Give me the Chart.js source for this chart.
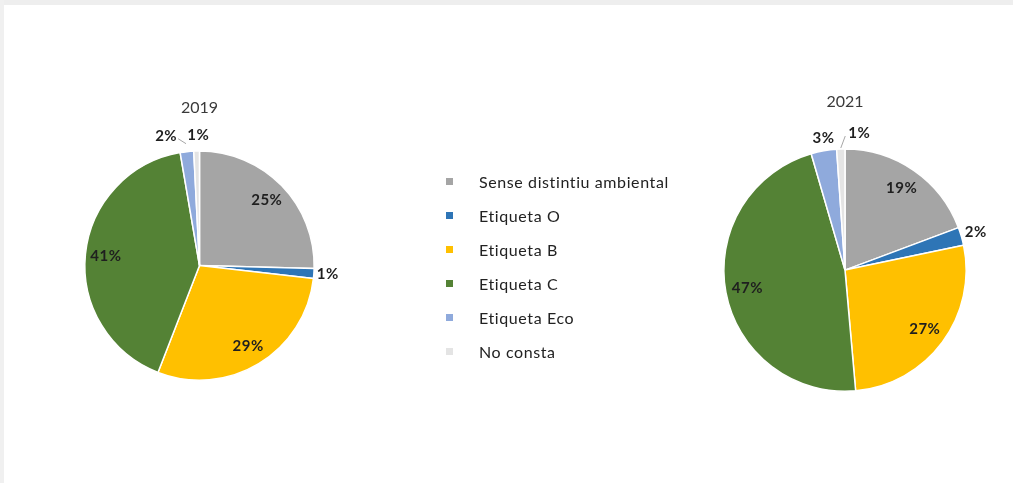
<!DOCTYPE html>
<html><head><meta charset="utf-8">
<script src="https://cdn.jsdelivr.net/npm/chart.js@4.4.1/dist/chart.umd.min.js"></script>
<style>
html,body{margin:0;padding:0;background:#fff;}
#wrap{position:relative;width:1013px;height:483px;overflow:hidden;background:#fff;}
#topband{position:absolute;left:0;top:0;width:1013px;height:5px;background:#eeeeee;}
#leftband{position:absolute;left:0;top:0;width:4px;height:483px;background:#f0f0f0;}
#c1{position:absolute;left:0;top:0;}
#c2{position:absolute;left:600px;top:0;}
#legend{position:absolute;left:446px;top:164px;font-family:Lato,"Open Sans",sans-serif;font-size:16px;letter-spacing:0.6px;color:#222;}
.item{height:34px;display:flex;align-items:center;white-space:nowrap;}
.sw{width:7px;height:7px;margin-right:26px;margin-top:1px;}
</style>
</head><body>
<div id="wrap">
<div id="topband"></div><div id="leftband"></div>
<canvas id="c1" width="400" height="483"></canvas>
<canvas id="c2" width="413" height="483"></canvas>
<div id="legend"></div>
</div>
<script>
const categories = ["Sense distintiu ambiental","Etiqueta O","Etiqueta B","Etiqueta C","Etiqueta Eco","No consta"];
const values2019 = [25.4, 1.4, 29.1, 41.4, 1.9, 0.8];
const values2021 = [19.3, 2.4, 26.9, 46.9, 3.4, 1.1];
const titles = ["2019","2021"];

const colors = ["#A5A5A5","#2E75B6","#FFC000","#548235","#8FAADC","#E4E4E4"];

// legend
const lg = document.getElementById('legend');
categories.forEach((c,i)=>{
  const d=document.createElement('div'); d.className='item';
  const s=document.createElement('span'); s.className='sw'; s.style.background=colors[i];
  const t=document.createElement('span'); t.textContent=c;
  d.appendChild(s); d.appendChild(t); lg.appendChild(d);
});

const labelPlugin = {
  id:'sliceLabels',
  afterDatasetsDraw(chart, args, opts){
    const ctx=chart.ctx; const meta=chart.getDatasetMeta(0);
    const data=chart.data.datasets[0].data;
    const total=data.reduce((a,b)=>a+b,0);
    ctx.save();
    ctx.font='bold 15px Lato, "Open Sans", sans-serif';
    if ('letterSpacing' in ctx) ctx.letterSpacing='0.5px';
    ctx.fillStyle='#1f1f1f';
    ctx.textAlign='center'; ctx.textBaseline='middle';
    meta.data.forEach((arc,i)=>{
      const p=arc.getProps(['x','y','startAngle','endAngle','outerRadius'],true);
      const mid=(p.startAngle+p.endAngle)/2;
      const txt=Math.round(data[i]/total*100)+'%';
      const mode=opts.modes[i];
      let r = mode==='in' ? p.outerRadius*0.82 : p.outerRadius+opts.outGap[i];
      let lx=p.x+Math.cos(mid)*r + (opts.nudge[i]||0);
      let ly=p.y+Math.sin(mid)*r;
      ctx.fillText(txt,lx,ly);
      if(opts.leader[i]){
        const w=ctx.measureText(txt).width;
        const ex=p.x+Math.cos(mid)*(p.outerRadius+opts.leader[i].r);
        const ey=p.y+Math.sin(mid)*(p.outerRadius+opts.leader[i].r);
        const sx = opts.leader[i].side==='right' ? lx+w/2+1 : lx-w/2-3;
        ctx.strokeStyle='#A6A6A6'; ctx.lineWidth=1;
        ctx.beginPath(); ctx.moveTo(sx,ly+3); ctx.lineTo(ex,ey); ctx.stroke();
      }
    });
    ctx.restore();
  }
};

function makePie(id, values, title, pad, titlePad, lab){
  return new Chart(document.getElementById(id),{
    type:'pie',
    data:{labels:categories,datasets:[{data:values,backgroundColor:colors,borderColor:'#ffffff',borderWidth:1.5,hoverOffset:0,offset:0}]},
    options:{
      responsive:false, animation:false, devicePixelRatio:1,
      layout:{padding:pad},
      plugins:{
        legend:{display:false}, tooltip:{enabled:false},
        title:{display:true,text:title,color:'#3a3a3a',font:{family:'Lato, "Open Sans", sans-serif',size:16,weight:'normal',lineHeight:1.2},padding:titlePad},
        sliceLabels:lab
      }
    },
    plugins:[labelPlugin]
  });
}

makePie('c1', values2019, titles[0], {left:84,right:85,top:89,bottom:102}, {top:9,bottom:33},
  {modes:['in','out','in','in','out','out'], outGap:[0,14,0,0,16,16], nudge:[0,0,0,0,-19,2],
   leader:[null,null,null,null,{r:8,side:'right'},null]});
makePie('c2', values2021, titles[1], {left:123,right:46,top:83,bottom:91}, {top:9,bottom:37},
  {modes:['in','out','in','in','out','out'], outGap:[0,15,0,0,13,16], nudge:[0,0,0,0,2,19],
   leader:[null,null,null,null,null,{r:1,side:'left'}]});
</script>
</body></html>
